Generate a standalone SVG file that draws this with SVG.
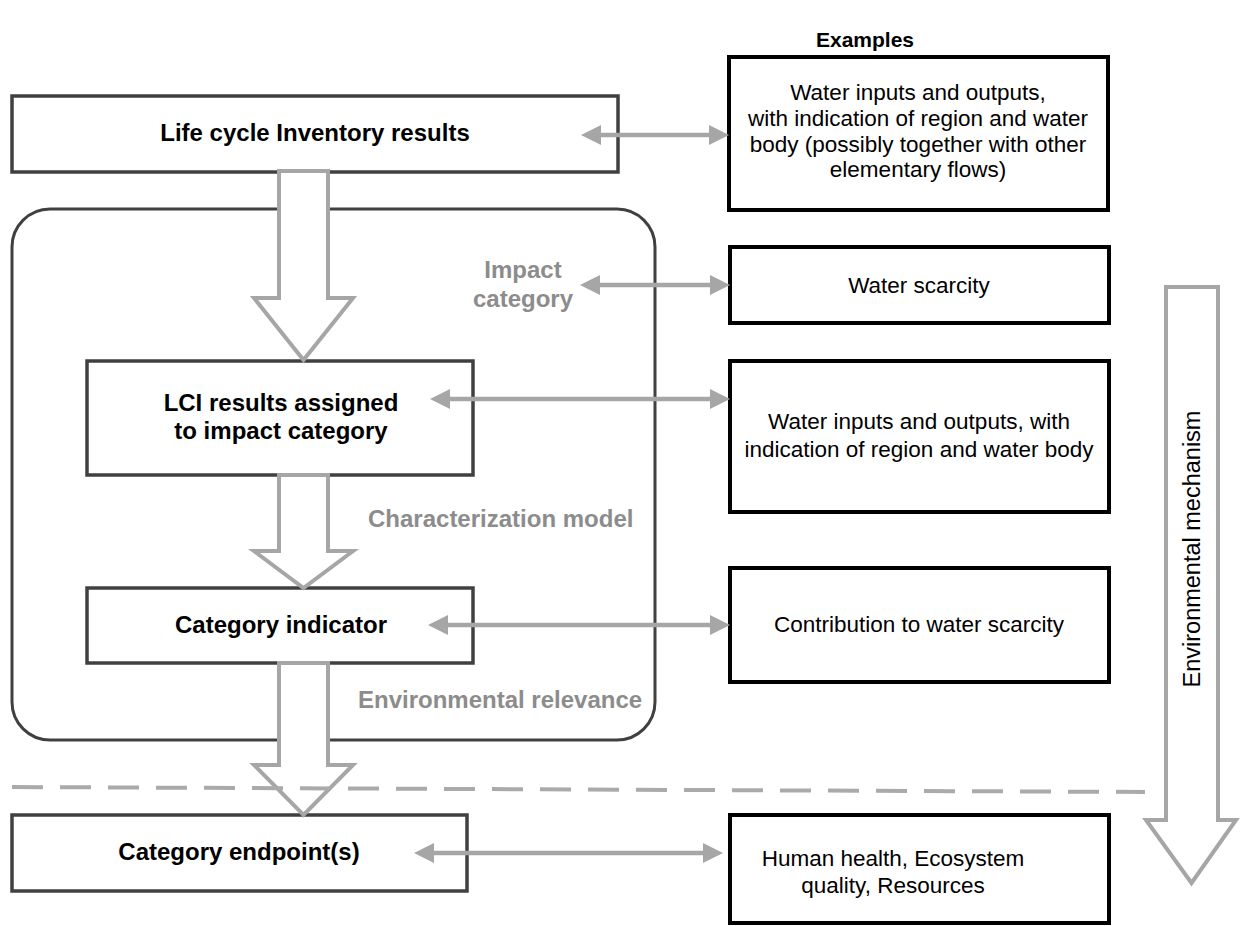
<svg xmlns="http://www.w3.org/2000/svg" width="1240" height="926" viewBox="0 0 1240 926">
<defs>
<marker id="ah" viewBox="0 0 20 20" refX="10" refY="10" markerWidth="20" markerHeight="20" markerUnits="userSpaceOnUse" orient="auto-start-reverse">
<path d="M0,0 L20,10 L0,20 z" fill="#a6a6a6"/>
</marker>
<style>
.lbox{fill:#fff;stroke:#404040;stroke-width:3.5}
.rbox{fill:#fff;stroke:#000;stroke-width:4}
.cont{fill:none;stroke:#404040;stroke-width:3}
.big{fill:#fff;stroke:#a6a6a6;stroke-width:4;stroke-linejoin:miter}
.h{stroke:#a6a6a6;stroke-width:4.5;fill:none;marker-start:url(#ah);marker-end:url(#ah)}
.dash{stroke:#aaaaaa;stroke-width:4;stroke-dasharray:31 17;fill:none}
.bt{font-family:"Liberation Sans",Arial,sans-serif;font-weight:bold;font-size:24px;fill:#000;text-anchor:middle}
.gt{font-family:"Liberation Sans",Arial,sans-serif;font-weight:bold;font-size:24px;fill:#8c8c8c}
.rt{font-family:"Liberation Sans",Arial,sans-serif;font-size:22.5px;fill:#000;text-anchor:middle}
</style>
</defs>
<rect width="1240" height="926" fill="#fff"/>
<g id="container">
<rect class="cont" x="12" y="209" width="643" height="531" rx="38"/>
</g>
<g id="lci-results">
<rect class="lbox" x="12" y="96" width="606" height="76"/>
<text class="bt" x="315" y="141">Life cycle Inventory results</text>
</g>
<g id="lci-assigned">
<rect class="lbox" x="87" y="361" width="386" height="114"/>
<text class="bt" x="281" y="411">LCI results assigned</text>
<text class="bt" x="281" y="439">to impact category</text>
</g>
<g id="category-indicator">
<rect class="lbox" x="87" y="588" width="386" height="75"/>
<text class="bt" x="281" y="633">Category indicator</text>
</g>
<g id="category-endpoints">
<rect class="lbox" x="12" y="815" width="455" height="76"/>
<text class="bt" x="239" y="860">Category endpoint(s)</text>
</g>
<g id="ex-inventory">
<rect class="rbox" x="729" y="57" width="379" height="153"/>
<text class="rt" x="918" y="100">Water inputs and outputs,</text>
<text class="rt" x="918" y="126">with indication of region and water</text>
<text class="rt" x="918" y="152">body (possibly together with other</text>
<text class="rt" x="918" y="177">elementary flows)</text>
</g>
<g id="ex-scarcity">
<rect class="rbox" x="730" y="247" width="379" height="76"/>
<text class="rt" x="919" y="293">Water scarcity</text>
</g>
<g id="ex-assigned">
<rect class="rbox" x="730" y="361" width="379" height="151"/>
<text class="rt" x="919" y="429">Water inputs and outputs, with</text>
<text class="rt" x="919" y="457">indication of region and water body</text>
</g>
<g id="ex-contribution">
<rect class="rbox" x="730" y="568" width="379" height="114"/>
<text class="rt" x="919" y="632">Contribution to water scarcity</text>
</g>
<g id="ex-endpoints">
<rect class="rbox" x="730" y="815" width="379" height="108"/>
<text class="rt" x="893" y="866">Human health, Ecosystem</text>
<text class="rt" x="893" y="893">quality, Resources</text>
</g>
<g id="connectors">
<polygon class="big" points="279,171 328,171 328,298 353,298 303.5,360 254,298 279,298"/>
<polygon class="big" points="279,475 328,475 328,551 353,551 303.5,588 254,551 279,551"/>
<polygon class="big" points="279,663 328,663 328,765 353,765 303.5,815 254,765 279,765"/>
<polygon class="big" points="1166,287 1218,287 1218,820 1236,820 1191.5,883 1146,820 1166,820"/>
<path class="dash" d="M12,787 L1145,792"/>
<line class="h" x1="591" y1="135" x2="719" y2="135"/>
<line class="h" x1="590" y1="285" x2="720" y2="285"/>
<line class="h" x1="440" y1="399" x2="720" y2="399"/>
<line class="h" x1="438" y1="625" x2="720" y2="625"/>
<line class="h" x1="424" y1="853" x2="713" y2="853"/>
</g>
<g id="labels">
<text class="bt" x="865" y="47" style="font-size:21px">Examples</text>
<text class="gt" x="523" y="278" text-anchor="middle">Impact</text>
<text class="gt" x="523" y="307" text-anchor="middle">category</text>
<text class="gt" x="368" y="527">Characterization model</text>
<text class="gt" x="358" y="708">Environmental relevance</text>
<text class="rt" transform="translate(1200,549) rotate(-90)" x="0" y="0" style="font-size:23.5px">Environmental mechanism</text>
</g>
</svg>
